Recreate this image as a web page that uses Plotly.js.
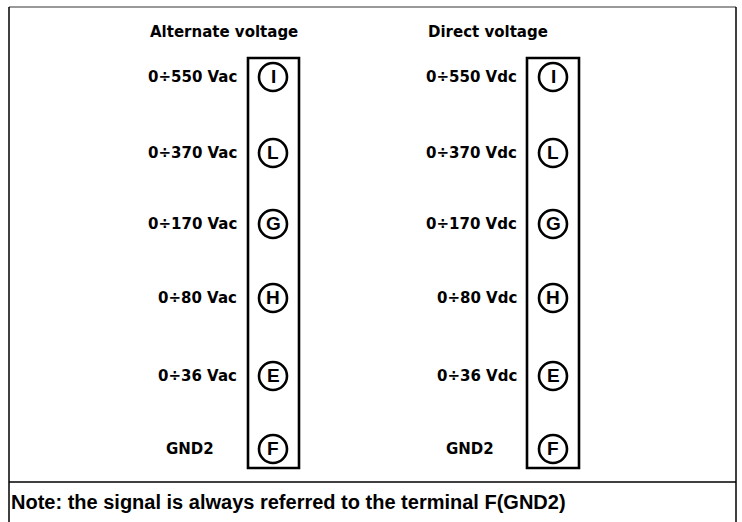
<!DOCTYPE html>
<html>
<head>
<meta charset="utf-8">
<script src="https://cdn.plot.ly/plotly-3.0.1.min.js"></script>
<style>html,body{margin:0;padding:0;background:#fff;}#chart{width:742px;height:522px;}</style>
</head>
<body>
<div id="chart"></div>
<script>
// ---- data ----
const terminals = ['I', 'L', 'G', 'H', 'E', 'F'];
const acLabels = ['0÷550 Vac', '0÷370 Vac', '0÷170 Vac', '0÷80 Vac', '0÷36 Vac', 'GND2'];
const dcLabels = ['0÷550 Vdc', '0÷370 Vdc', '0÷170 Vdc', '0÷80 Vdc', '0÷36 Vdc', 'GND2'];
const groupTitles = ['Alternate voltage', 'Direct voltage'];
const noteText = 'Note: the signal is always referred to the terminal F(GND2)';

// ---- layout positions (pixel coordinates) ----
const rowY = [77, 153, 224, 298, 376, 449];
const groups = [
  {labels: acLabels, circleX: 273, boxX0: 248, boxX1: 299, labelRight: 239, gndX: 190, titleX: 224},
  {labels: dcLabels, circleX: 553, boxX0: 527, boxX1: 579, labelRight: 519, gndX: 470, titleX: 488}
];
const boxY0 = 58, boxY1 = 468;

const labelFont = {family: 'DejaVu Sans', size: 15, color: '#000', weight: 'bold'};
const letterFont = {family: 'Liberation Sans', size: 19, color: '#000', weight: 'bold'};

const traces = [];
const shapes = [];
const annotations = [];

groups.forEach((g, gi) => {
  // circles
  traces.push({
    type: 'scatter', mode: 'markers',
    x: terminals.map(() => g.circleX), y: rowY,
    marker: {symbol: 'circle', size: 28, color: 'rgba(255,255,255,0)', line: {color: '#000', width: 2.6}},
    hoverinfo: 'skip', showlegend: false, cliponaxis: false
  });
  // terminal letters
  terminals.forEach((t, i) => {
    annotations.push({
      x: g.circleX, y: rowY[i] - 1, xref: 'x', yref: 'y', text: t, showarrow: false,
      xanchor: 'center', yanchor: 'middle', font: letterFont
    });
  });
  // range labels (right aligned) and GND label (centered)
  g.labels.forEach((lab, i) => {
    const isGnd = i === g.labels.length - 1;
    annotations.push({
      x: isGnd ? g.gndX : g.labelRight, y: rowY[i], xref: 'x', yref: 'y',
      text: lab, showarrow: false,
      xanchor: isGnd ? 'center' : 'right', yanchor: 'middle',
      font: labelFont
    });
  });
  // group title
  annotations.push({
    x: g.titleX, y: 32, xref: 'x', yref: 'y', text: groupTitles[gi], showarrow: false,
    xanchor: 'center', yanchor: 'middle', font: labelFont
  });
  // terminal block
  shapes.push({type: 'rect', xref: 'x', yref: 'y', x0: g.boxX0, x1: g.boxX1, y0: boxY0, y1: boxY1,
    line: {color: '#000', width: 2.6}, fillcolor: 'rgba(0,0,0,0)', layer: 'below'});
});

// outer frame and note separator
shapes.push({type: 'line', xref: 'x', yref: 'y', x0: 9, x1: 736, y0: 7, y1: 7, line: {color: '#777', width: 1.5}});
shapes.push({type: 'line', xref: 'x', yref: 'y', x0: 9, x1: 9, y0: 7, y1: 530, line: {color: '#000', width: 1.5}});
shapes.push({type: 'line', xref: 'x', yref: 'y', x0: 736, x1: 736, y0: 7, y1: 530, line: {color: '#000', width: 1.5}});
shapes.push({type: 'line', xref: 'x', yref: 'y', x0: 9, x1: 736, y0: 482, y1: 482, line: {color: '#000', width: 1.5}});

annotations.push({
  x: 9, y: 502, xref: 'x', yref: 'y', text: noteText, showarrow: false,
  xanchor: 'left', yanchor: 'middle',
  font: {family: 'Liberation Sans', size: 20, color: '#000', weight: 'bold'}
});

const layout = {
  width: 742, height: 522,
  margin: {l: 0, r: 0, t: 0, b: 0},
  paper_bgcolor: '#fff', plot_bgcolor: '#fff',
  xaxis: {range: [0, 742], visible: false, fixedrange: true},
  yaxis: {range: [522, 0], visible: false, fixedrange: true},
  shapes: shapes, annotations: annotations, showlegend: false
};

Plotly.newPlot('chart', traces, layout, {staticPlot: true, displayModeBar: false});
</script>
</body>
</html>
